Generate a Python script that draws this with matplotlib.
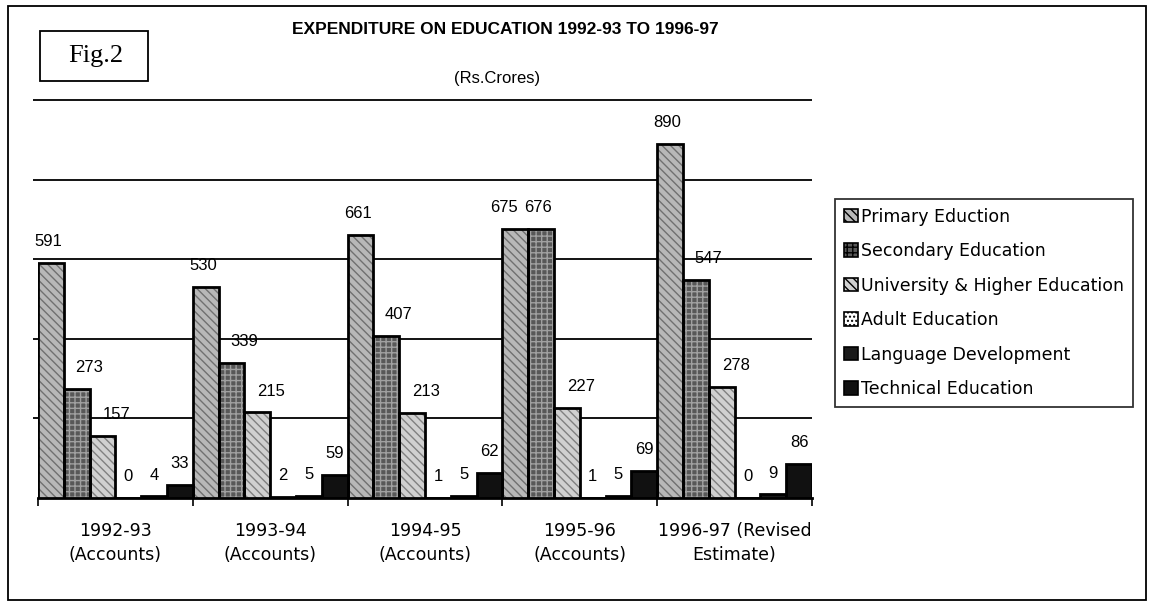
import numpy as np
import matplotlib.pyplot as plt
from matplotlib.patches import Patch, Rectangle

plt.rcParams['font.family'] = ['Liberation Sans', 'DejaVu Sans']
plt.rcParams['hatch.linewidth'] = 1.0

years = ['1992-93\n(Accounts)', '1993-94\n(Accounts)', '1994-95\n(Accounts)',
         '1995-96\n(Accounts)', '1996-97 (Revised\nEstimate)']
series = ['Primary Eduction', 'Secondary Education', 'University & Higher Education',
          'Adult Education', 'Language Development', 'Technical Education']
primary = [591, 530, 661, 675, 890]
secondary = [273, 339, 407, 676, 547]
university = [157, 215, 213, 227, 278]
adult = [0, 2, 1, 1, 0]
language = [4, 5, 5, 5, 9]
technical = [33, 59, 62, 69, 86]
values = [primary, secondary, university, adult, language, technical]

# face, hatch, hatch colour, label x-shift (pt) per series
styles = [('#b8b8b8', '\\\\\\\\', '#707070', -2),
          ('#585858', '+++', '#a0a0a0', 9),
          ('#d0d0d0', '\\\\\\\\', '#808080', 10),
          ('#ffffff', '....', '#b0b0b0', 0),
          ('#1a1a1a', None, '#1a1a1a', 0),
          ('#111111', None, '#111111', 0)]

fig = plt.figure(figsize=(11.53, 6.07), dpi=100)
W, H = 1153, 607
ax = fig.add_axes([38 / W, 1 - 498 / H, (812 - 38) / W, (498 - 100) / H])

n = len(series)
w = 1.0 / n
idx = np.arange(len(years))
for j, (vals, (fc, hatch, hc, dx)) in enumerate(zip(values, styles)):
    x = idx + (j + 0.5) * w
    ax.bar(x, vals, width=w, color=fc, hatch=hatch, edgecolor=hc, linewidth=0, zorder=3)
    ax.bar(x, vals, width=w, fill=False, edgecolor='black', linewidth=2, zorder=4)
    for xi, v in zip(x, vals):
        shift = dx if v > 100 else 0
        if vals is primary and v == 675:
            shift = -8
        if vals is secondary and v == 676:
            shift = -2
        ax.annotate(str(v), (xi, v), xytext=(shift, 10), textcoords='offset points',
                    ha='center', va='bottom', fontsize=12)

ax.set_xlim(0, len(years))
ax.set_ylim(0, 1000)
ax.hlines([200, 400, 600, 800, 1000], -0.03, len(years), color='black', lw=1.3,
          zorder=1, clip_on=False)
for s in ['left', 'right', 'top']:
    ax.spines[s].set_visible(False)
ax.spines['bottom'].set_linewidth(2)
ax.set_yticks([])
ax.set_xticks(np.arange(0, len(years) + 1), [''] * (len(years) + 1))
ax.tick_params(axis='x', which='major', length=6, width=1.2, direction='out')
ax.set_xticks(idx + 0.5, years, minor=True)
ax.tick_params(axis='x', which='minor', length=0, pad=17)
for t in ax.get_xticklabels(minor=True):
    t.set_family(['DejaVu Sans'])
    t.set_fontsize(12.5)
    t.set_linespacing(1.45)

handles = [Patch(facecolor=fc, hatch=hatch, edgecolor='black', linewidth=1.2)
           for fc, hatch, hc, dx in styles]
leg = fig.legend(handles, series, loc='upper left', bbox_to_anchor=(835 / W, 1 - 199 / H),
                 frameon=True, fancybox=False, edgecolor='black',
                 prop={'family': 'DejaVu Sans', 'size': 12.5},
                 handlelength=0.8, handleheight=0.8, handletextpad=0.2,
                 labelspacing=0.95, borderpad=0.5, borderaxespad=0)
leg.get_frame().set_linewidth(1.3)

# title block
fig.text(505 / W, 1 - 30 / H, 'EXPENDITURE ON EDUCATION 1992-93 TO 1996-97',
         ha='center', va='center', fontsize=12.5, fontweight='bold')
fig.text(497 / W, 1 - 78 / H, '(Rs.Crores)', ha='center', va='center', fontsize=12)
fig.add_artist(Rectangle((40 / W, 1 - 81 / H), 108 / W, 50 / H, transform=fig.transFigure,
                         fill=False, edgecolor='black', lw=1.3))
fig.text(96 / W, 1 - 56 / H, 'Fig.2', ha='center', va='center', fontsize=19,
         family=['Liberation Serif', 'DejaVu Serif'])
fig.add_artist(Rectangle((8 / W, 1 - 600 / H), 1138 / W, 594 / H, transform=fig.transFigure,
                         fill=False, edgecolor='black', lw=1.3))

fig.savefig('out.png', dpi=100)
